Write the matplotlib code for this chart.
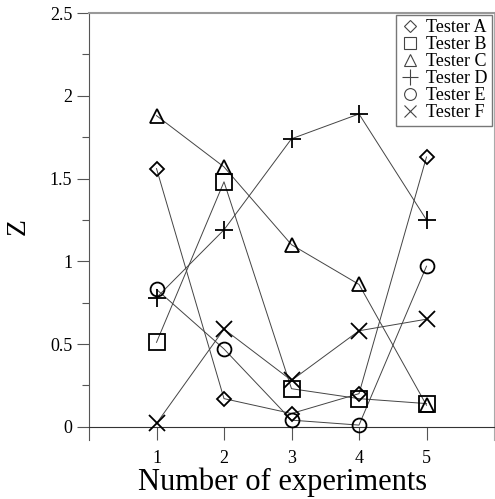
import numpy as np
from matplotlib import pyplot as plt

plt.rcParams['font.family'] = ['Liberation Serif', 'DejaVu Serif']

experiments = [1, 2, 3, 4, 5]
tester_a = [1.56, 0.17, 0.08, 0.20, 1.63]
tester_b = [0.51, 1.48, 0.23, 0.17, 0.14]
tester_c = [1.88, 1.57, 1.10, 0.86, 0.13]
tester_d = [0.78, 1.19, 1.74, 1.89, 1.25]
tester_e = [0.83, 0.47, 0.04, 0.01, 0.97]
tester_f = [0.02, 0.59, 0.28, 0.58, 0.65]
names = ['Tester A', 'Tester B', 'Tester C', 'Tester D', 'Tester E', 'Tester F']

series = [tester_a, tester_b, tester_c, tester_d, tester_e, tester_f]
markers = ['D', 's', '^', '+', 'o', 'x']
msizes = [7, 11, 10, 13, 10, 11]

fig = plt.figure(figsize=(4.95, 4.99), dpi=100)
ax = fig.add_axes([89/495, 1 - 440/499, 405/495, 427/499])

handles = []
for vals, m, ms, name in zip(series, markers, msizes, names):
  ax.plot(experiments, vals, '-', color='#444444', lw=0.7, zorder=2)
  h, = ax.plot(experiments, vals, linestyle='none', marker=m, ms=ms,
               mfc='none', mec='black', mew=1.3, zorder=3, label=name)
  handles.append(h)

ax.set_xlim(0, 6)
ax.set_ylim(-0.08, 2.5)
ax.set_xticks(experiments)
ax.set_yticks([0, 0.5, 1, 1.5, 2, 2.5])
ax.set_yticklabels(['0', '0.5', '1', '1.5', '2', '2.5'])
ax.set_yticks([0.25, 0.75, 1.25, 1.75, 2.25], minor=True)
ax.tick_params(axis='y', which='major', length=9, width=0.8, color='#555555', labelsize=13, pad=3)
ax.tick_params(axis='y', which='minor', length=5, width=0.8, color='#555555')
ax.tick_params(axis='x', which='major', length=9, width=0.8, color='#555555', labelsize=13, pad=8)

ax.spines['bottom'].set_position(('data', 0))
ax.spines['bottom'].set_color('#333333')
ax.spines['bottom'].set_linewidth(0.8)
ax.spines['left'].set_color('#555555')
ax.spines['left'].set_linewidth(0.8)
ax.spines['top'].set_color('#999999')
ax.spines['top'].set_linewidth(1.5)
ax.spines['right'].set_color('#aaaaaa')
ax.spines['right'].set_linewidth(0.8)

ax.set_ylabel('Z', fontsize=20)
ax.yaxis.set_label_coords(-0.145, 0.5)
ax.set_xlabel('Number of experiments', fontsize=22)
ax.xaxis.set_label_coords(0.478, -0.065)

leg = ax.legend(handles=handles, loc='upper right', fontsize=13, frameon=True, fancybox=False,
                edgecolor='#555555', handlelength=1.0, handletextpad=0.4, labelspacing=0.0,
                borderpad=0.25, borderaxespad=0.1, markerscale=0.85)
leg.get_frame().set_linewidth(1.0)
for lh in leg.legend_handles:
  lh.set_markeredgecolor('#444444')
  lh.set_markeredgewidth(0.8)

plt.savefig('out.png', dpi=100)
